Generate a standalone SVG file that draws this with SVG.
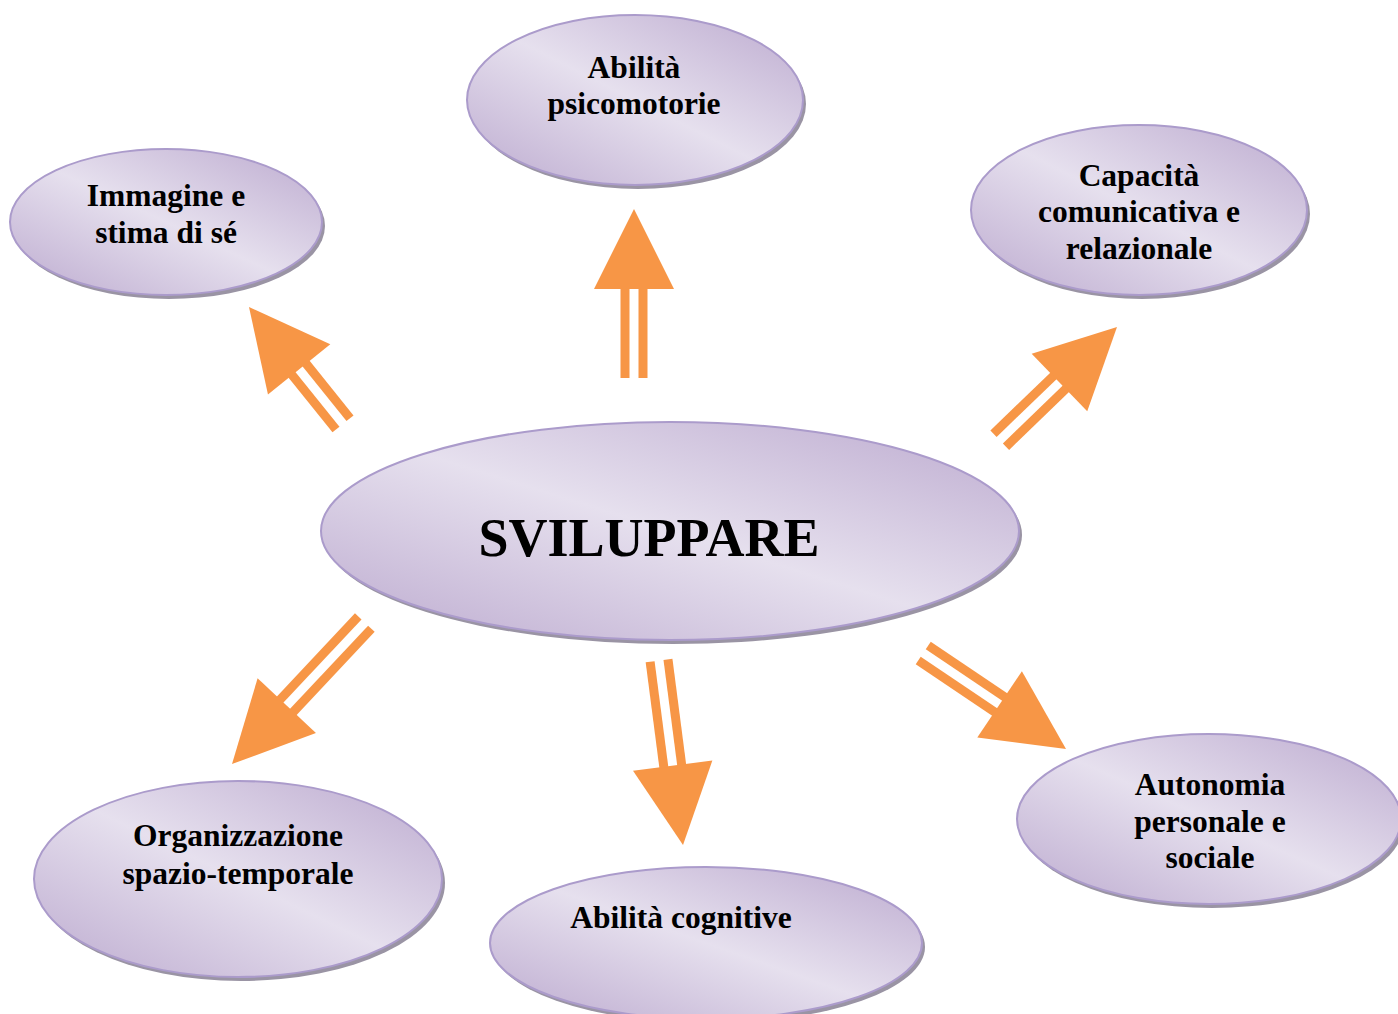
<svg xmlns="http://www.w3.org/2000/svg" width="1398" height="1014" viewBox="0 0 1398 1014">
<defs>
<linearGradient id="g" x1="0" y1="1" x2="1" y2="0">
<stop offset="0" stop-color="#bcaacf"/>
<stop offset="0.5" stop-color="#e6e0ee"/>
<stop offset="1" stop-color="#bcaacf"/>
</linearGradient>
<style>
.sh{fill:#9a94a4}
.el{fill:url(#g);stroke:#ab9bcb;stroke-width:2}
.t{font-family:"Liberation Serif","Times New Roman",serif;font-weight:bold;font-size:31.5px;fill:#000;text-anchor:middle}
.big{font-size:54px}
.ar{fill:#f79646}
</style>
</defs>
<g id="connectors" class="ar">
<g transform="translate(634,209)"><path d="M0 0 L-40 80 L40 80 Z"/><rect x="-13.5" y="79" width="9" height="90"/><rect x="4.5" y="79" width="9" height="90"/></g>
<g transform="translate(249,307) rotate(-38.8)"><path d="M0 0 L-40 80 L40 80 Z"/><rect x="-13.5" y="79" width="9" height="71"/><rect x="4.5" y="79" width="9" height="71"/></g>
<g transform="translate(1117,327) rotate(46)"><path d="M0 0 L-40 80 L40 80 Z"/><rect x="-13.5" y="79" width="9" height="84"/><rect x="4.5" y="79" width="9" height="84"/></g>
<g transform="translate(232,764) rotate(-136.8)"><path d="M0 0 L-40 80 L40 80 Z"/><rect x="-13.5" y="79" width="9" height="115"/><rect x="4.5" y="79" width="9" height="115"/></g>
<g transform="translate(683,845) rotate(172.6)"><path d="M0 0 L-40 80 L40 80 Z"/><rect x="-13.5" y="79" width="9" height="107"/><rect x="4.5" y="79" width="9" height="107"/></g>
<g transform="translate(1066,749) rotate(123.9)"><path d="M0 0 L-40 80 L40 80 Z"/><rect x="-13.5" y="79" width="9" height="93"/><rect x="4.5" y="79" width="9" height="93"/></g>
</g>
<g id="n-center">
<ellipse class="sh" cx="673" cy="535" rx="349" ry="109"/>
<ellipse class="el" cx="670" cy="531" rx="349" ry="109"/>
<text class="t big" x="649" y="556">SVILUPPARE</text>
</g>
<g id="n-psicomotorie">
<ellipse class="sh" cx="638" cy="104" rx="168" ry="85"/>
<ellipse class="el" cx="635" cy="100" rx="168" ry="85"/>
<text class="t" x="634" y="78">Abilità</text>
<text class="t" x="634" y="114">psicomotorie</text>
</g>
<g id="n-immagine">
<ellipse class="sh" cx="169" cy="226" rx="156" ry="73"/>
<ellipse class="el" cx="166" cy="222" rx="156" ry="73"/>
<text class="t" x="166" y="206">Immagine e</text>
<text class="t" x="166" y="243">stima di sé</text>
</g>
<g id="n-capacita">
<ellipse class="sh" cx="1142" cy="214" rx="168" ry="85"/>
<ellipse class="el" cx="1139" cy="210" rx="168" ry="85"/>
<text class="t" x="1139" y="186">Capacità</text>
<text class="t" x="1139" y="222">comunicativa e</text>
<text class="t" x="1139" y="259">relazionale</text>
</g>
<g id="n-organizzazione">
<ellipse class="sh" cx="241" cy="883" rx="204" ry="98"/>
<ellipse class="el" cx="238" cy="879" rx="204" ry="98"/>
<text class="t" x="238" y="846">Organizzazione</text>
<text class="t" x="238" y="884">spazio-temporale</text>
</g>
<g id="n-cognitive">
<ellipse class="sh" cx="709" cy="947" rx="216" ry="76"/>
<ellipse class="el" cx="706" cy="943" rx="216" ry="76"/>
<text class="t" x="681" y="928">Abilità cognitive</text>
</g>
<g id="n-autonomia">
<ellipse class="sh" cx="1212" cy="823" rx="192" ry="85"/>
<ellipse class="el" cx="1209" cy="819" rx="192" ry="85"/>
<text class="t" x="1210" y="795">Autonomia</text>
<text class="t" x="1210" y="832">personale e</text>
<text class="t" x="1210" y="868">sociale</text>
</g>
</svg>
